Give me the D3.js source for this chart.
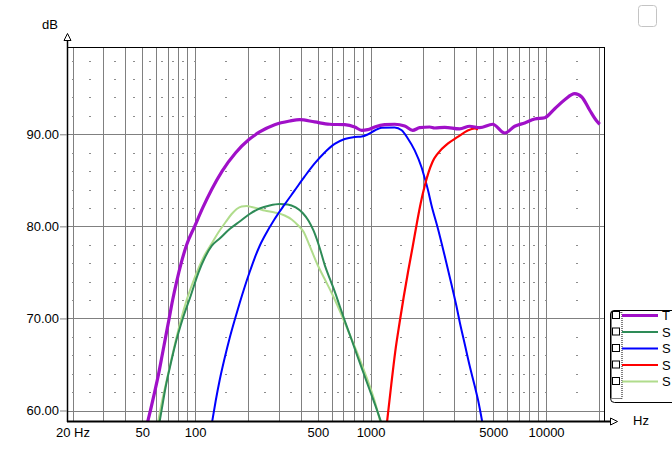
<!DOCTYPE html>
<html>
<head>
<meta charset="utf-8">
<script src="https://cdn.jsdelivr.net/npm/d3@7"></script>
<style>
  html, body { margin: 0; padding: 0; background: #fff; }
  svg { display: block; font-family: "Liberation Sans", Arial, sans-serif; }
</style>
</head>
<body>
<div id="chart"></div>
<script>
const width = 672;
const height = 469;

// data: [frequency Hz, level dB]
const total = [
	[53.5, 58.7], [55.6, 60], [58.76, 62], [61.93, 64], [64.85, 66], [67.89, 68], [71.09, 70],
	[74.42, 72], [78.43, 74], [83.23, 76], [89.44, 78], [99.34, 80], [110.4, 82], [124.2, 84],
	[142.5, 86], [170.2, 88], [201.8, 89.4], [233, 90.25], [284, 91.04], [346, 91.44], [394, 91.59],
	[480, 91.34], [585, 91.09], [712, 91.04], [812, 90.79], [890, 90.43], [963, 90.5], [1055, 90.79],
	[1203, 91.04], [1372, 91.09], [1564, 90.9], [1738, 90.43], [1905, 90.72], [2172, 90.79],
	[2319, 90.68], [2645, 90.76], [3221, 90.58], [3672, 90.87], [4188, 90.72], [4966, 91.09],
	[5816, 90.14], [6632, 90.87], [7560, 91.23], [8620, 91.66], [9830, 91.8], [11210, 92.78],
	[12780, 93.76], [14570, 94.41], [15980, 94.05], [17750, 92.61], [19450, 91.44], [20230, 91.09]
];
const s1 = [
	[62.6, 58.7], [64.42, 60.06], [67.89, 62.55], [72.5, 65.05], [77.41, 67.33], [84.86, 69.94],
	[94.25, 72.44], [104.7, 75.04], [113.3, 76.56], [124.2, 77.87], [138, 78.68], [157.3, 79.71],
	[179.4, 80.53], [204.5, 81.34], [233.1, 81.94], [265.9, 82.27], [303.1, 82.43], [336.8, 82.38],
	[374.1, 82.05], [410.2, 81.45], [443.7, 80.58], [473.8, 79.5], [512.7, 77.65], [547.4, 75.82],
	[584.6, 74.34], [624.2, 72.93], [666.6, 71.35], [711.9, 69.78], [780.4, 67.66], [844.3, 65.81],
	[913.4, 64.02], [988.3, 62.23], [1069, 60.44], [1160, 58.5]
];
const s2 = [
	[124.5, 58.6], [130.9, 61.03], [138, 63.31], [147.3, 65.7], [157.3, 67.88], [168, 69.83],
	[179.4, 71.68], [191.5, 73.42], [204.5, 75.04], [218.4, 76.56], [233.1, 77.87], [249, 78.95],
	[283.9, 80.8], [323.7, 82.38], [369.3, 83.9], [421.1, 85.42], [480.1, 86.83], [547.4, 88.02],
	[624.2, 88.95], [711.9, 89.49], [811.6, 89.71], [890, 89.76], [962.8, 89.98], [1055, 90.41],
	[1157, 90.72], [1372, 90.74], [1504, 90.43], [1634, 89.52], [1784, 88.26], [1949, 86.45],
	[2034, 85.25], [2125, 83.92], [2222, 82.32], [2423, 79.71], [2646, 76.78], [2888, 73.74],
	[3085, 71.35], [3221, 69.61], [3440, 67.22], [3673, 64.83], [3923, 62.66], [4097, 61.14],
	[4345, 58.6]
];
const s3 = [
	[1238, 58.6], [1311, 62.77], [1381, 66.35], [1465, 69.61], [1544, 72.33], [1638, 75.15],
	[1738, 77.81], [1832, 80.26], [1931, 82.54], [2034, 84.38], [2144, 85.91], [2259, 87.05],
	[2413, 87.91], [2752, 88.98], [3137, 89.71], [3578, 90.41], [3923, 90.63], [4097, 90.52]
];
const s4 = [
	[61.3, 58.6], [64.42, 60.82], [67.89, 62.77], [72.5, 65.21], [77.41, 67.55], [83.23, 69.94],
	[89.44, 72.0], [96.76, 73.85], [104.7, 75.48], [113.3, 76.89], [124.2, 78.14], [136.1, 79.39],
	[149.3, 80.47], [161.5, 81.34], [172.5, 81.89], [184.1, 82.16], [196.6, 82.21], [209.9, 82.1],
	[227.1, 81.94], [249, 81.72], [283.9, 81.51], [323.7, 81.18], [354.9, 80.75], [384.1, 80.15],
	[415.6, 79.39], [449.6, 77.87], [499.3, 75.8], [547.4, 74.28], [600.1, 72.76], [649.3, 71.35],
	[702.5, 69.83], [760.1, 68.26], [833.2, 66.41], [901.3, 64.73], [975.4, 62.99], [1055, 61.03],
	[1145, 58.5]
];

const seriesNames = ["T", "S", "S", "S", "S"];
const seriesColors = ["#a010c8", "#2e8b57", "#0000ff", "#ff0000", "#b0dc8c"];
const seriesWidths = [3.2, 2, 2, 2.2, 2];
const seriesData = [total, s1, s2, s3, s4];

const xTickValues = [20, 50, 100, 500, 1000, 5000, 10000];
const yTickValues = [60, 70, 80, 90];

// layout
const plotLeft = 67, plotRight = 604, plotTop = 47, plotBottom = 421;

const x = d3.scaleLog().domain([18.6, 21400]).range([plotLeft, plotRight]);
const y = d3.scaleLinear().domain([58.86, 99.48]).range([plotBottom, plotTop]);

const svg = d3.select("#chart").append("svg")
	.attr("width", width)
	.attr("height", height)
	.attr("viewBox", [0, 0, width, height]);

svg.append("rect").attr("width", width).attr("height", height).attr("fill", "#fff");

// log grid lines 20 Hz .. 20 kHz
const gridFreqs = [];
[10, 100, 1000, 10000].forEach((dec) => {
	for (let m = 1; m <= 9; m++) {
		const f = dec * m;
		if (f >= 20 && f <= 20000) gridFreqs.push(f);
	}
});

const grid = svg.append("g").attr("stroke", "#808080").attr("stroke-width", 1);
grid.selectAll(".vg")
	.data(gridFreqs)
	.join("line")
	.attr("class", "vg")
	.attr("x1", (d) => Math.round(x(d)) + 0.5)
	.attr("x2", (d) => Math.round(x(d)) + 0.5)
	.attr("y1", plotTop)
	.attr("y2", plotBottom);
grid.selectAll(".hg")
	.data(yTickValues)
	.join("line")
	.attr("class", "hg")
	.attr("x1", plotLeft)
	.attr("x2", plotRight)
	.attr("y1", (d) => Math.round(y(d)) + 0.5)
	.attr("y2", (d) => Math.round(y(d)) + 0.5);

// small dashes of the minor grid
const dashFreqs = [20, 25, 35, 45, 55, 65, 75, 85, 100, 150, 250, 350, 450, 550, 650, 750, 850,
	1000, 1500, 2500, 3500, 4500, 5500, 6500, 7500, 8500, 10000, 15000];
const dashLevels = [62, 64, 66, 68, 72, 74, 76, 78, 82, 84, 86, 88, 92, 94, 96, 98];
const dashes = [];
dashFreqs.forEach((f) => dashLevels.forEach((l) => dashes.push([f, l])));
svg.append("g")
	.attr("stroke", "#8c8c8c")
	.attr("stroke-width", 1)
	.selectAll("line")
	.data(dashes)
	.join("line")
	.attr("x1", (d) => Math.round(x(d[0])) - 1)
	.attr("x2", (d) => Math.round(x(d[0])) + 1)
	.attr("y1", (d) => Math.round(y(d[1])) + 0.5)
	.attr("y2", (d) => Math.round(y(d[1])) + 0.5);

// curves
svg.append("defs").append("clipPath").attr("id", "plot-clip")
	.append("rect")
	.attr("x", plotLeft).attr("y", plotTop)
	.attr("width", plotRight - plotLeft).attr("height", plotBottom - plotTop);

const line = d3.line()
	.x((d) => x(d[0]))
	.y((d) => y(d[1]))
	.curve(d3.curveMonotoneX);

const drawOrder = [4, 1, 2, 3, 0];
svg.append("g")
	.attr("clip-path", "url(#plot-clip)")
	.selectAll("path")
	.data(drawOrder)
	.join("path")
	.attr("fill", "none")
	.attr("stroke", (i) => seriesColors[i])
	.attr("stroke-width", (i) => seriesWidths[i])
	.attr("stroke-linejoin", "round")
	.attr("d", (i) => line(seriesData[i]));

// frame and axes
const frame = svg.append("g").attr("stroke", "#000").attr("fill", "none");
frame.append("line").attr("x1", plotLeft).attr("x2", plotRight + 0.5).attr("y1", plotTop + 0.5).attr("y2", plotTop + 0.5);
frame.append("line").attr("x1", plotRight + 0.5).attr("x2", plotRight + 0.5).attr("y1", plotTop).attr("y2", plotBottom);
frame.append("line").attr("x1", plotLeft + 0.5).attr("x2", plotLeft + 0.5).attr("y1", 40).attr("y2", plotBottom + 1).attr("stroke-width", 1.5);
frame.append("line").attr("x1", plotLeft).attr("x2", 611).attr("y1", plotBottom + 0.5).attr("y2", plotBottom + 0.5).attr("stroke-width", 2);
// arrows
frame.append("path").attr("d", `M${plotLeft + 0.5},33.5 L${plotLeft - 3},40.5 L${plotLeft + 4},40.5 Z`).attr("fill", "#fff");
frame.append("path").attr("d", `M617.5,${plotBottom + 0.5} L610.5,${plotBottom - 3} L610.5,${plotBottom + 4} Z`).attr("fill", "#fff");

const yAxis = d3.axisLeft(y)
	.tickValues(yTickValues)
	.tickSize(7)
	.tickPadding(1)
	.tickFormat(d3.format(".2f"));
const gy = svg.append("g").attr("transform", `translate(${plotLeft},0)`).call(yAxis);
gy.select(".domain").remove();
gy.selectAll(".tick line").attr("stroke", "#808080");
gy.selectAll("text").attr("font-size", 13).attr("fill", "#000");

const xAxis = d3.axisBottom(x)
	.tickValues(xTickValues)
	.tickSize(0)
	.tickPadding(7)
	.tickFormat((d) => (d === 20 ? "20 Hz" : String(d)));
const gx = svg.append("g").attr("transform", `translate(0,${plotBottom})`).call(xAxis);
gx.select(".domain").remove();
gx.selectAll("text").attr("font-size", 13).attr("fill", "#000");

svg.append("text").attr("x", 42).attr("y", 29).attr("font-size", 13).text("dB");
svg.append("text").attr("x", 633).attr("y", 425).attr("font-size", 13).text("Hz");

// legend
const lg = svg.append("g");
lg.append("path")
	.attr("d", "M680,310.5 H614 Q610.5,310.5 610.5,314 V398.5 Q610.5,402.5 614.5,402.5 H680")
	.attr("fill", "#fff")
	.attr("stroke", "#000");
lg.append("rect")
	.attr("x", 611.5).attr("y", 312.5).attr("width", 10.5).attr("height", 86)
	.attr("fill", "none").attr("stroke", "#000").attr("stroke-dasharray", "1,1");
const rowY = [315, 331.5, 348, 364.5, 381];
const items = lg.selectAll(".item")
	.data(seriesNames)
	.join("g")
	.attr("class", "item")
	.attr("transform", (d, i) => `translate(0,${rowY[i]})`);
items.append("rect")
	.attr("x", 612.5).attr("y", -3.5).attr("width", 7).attr("height", 7)
	.attr("fill", "#fff").attr("stroke", "#000");
items.append("line")
	.attr("x1", 622).attr("x2", 658).attr("y1", 0.5).attr("y2", 0.5)
	.attr("stroke", (d, i) => seriesColors[i])
	.attr("stroke-width", (d, i) => (i === 0 ? 3 : 2));
items.append("text")
	.attr("x", 662).attr("y", 5)
	.attr("font-size", 13)
	.text((d) => d);

// small button at top right
svg.append("rect")
	.attr("x", 638.5).attr("y", 5.5).attr("width", 18).attr("height", 21).attr("rx", 3)
	.attr("fill", "none").attr("stroke", "#c4c4c4");
</script>
</body>
</html>
